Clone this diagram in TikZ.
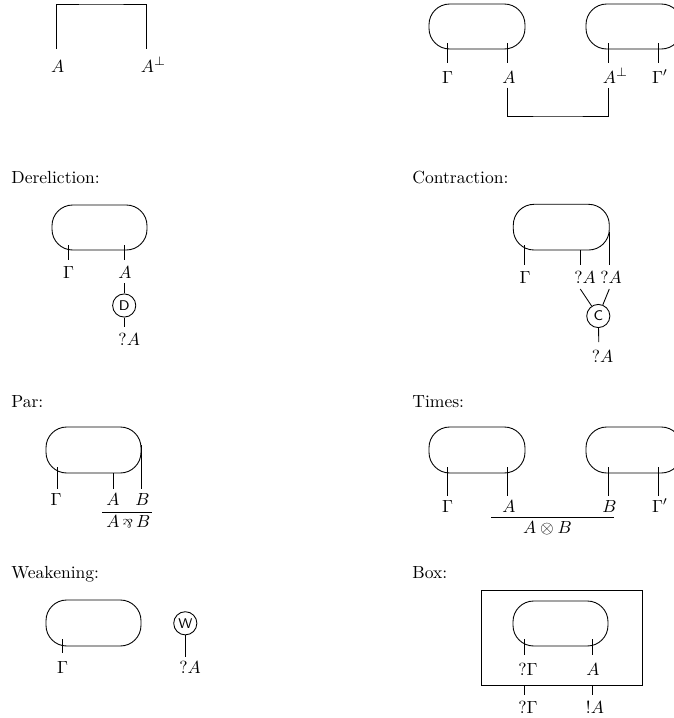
\documentclass[tikz,border=0pt]{standalone}
\newcommand{\parrsym}{\mathbin{\rotatebox[origin=c]{180}{$\scriptstyle\&$}}}
\tikzset{
  wire/.style={line width=0.5pt},
  oval/.style={line width=0.5pt, rounded corners=11.8pt},
  lab/.style={inner sep=0pt, anchor=base},
  ttl/.style={inner sep=0pt, anchor=base west},
  gate/.style={draw, circle, line width=0.5pt, minimum size=13.2pt, inner sep=0pt, font=\footnotesize\sffamily},
  boxframe/.style={line width=0.5pt}
}
\begin{document}
\begin{tikzpicture}[x=0.57pt,y=-0.57pt]
\useasboundingbox (0,0) rectangle (674,718);
\clip (0,0) rectangle (674,718);

% ---------- Axiom ----------
\coordinate (ax1) at (56.5,49);
\coordinate (ax2) at (146,49);
\draw[wire] (ax1) |- (101,4) -| (ax2);
\node[lab] (axA) at (57.8,72) {$A$};
\node[lab] (axAp) at (147.5,72) {$A\rlap{$^{\perp}$}$};

% ---------- Cut ----------
\draw[oval] (429,4) rectangle (525,49);
\draw[oval] (586,4) rectangle (682,49);
\draw[wire] (447.3,43) coordinate (cw1) -- (447.3,63) coordinate (cw1e);
\draw[wire] (507.3,43) coordinate (cw2) -- (507.3,63) coordinate (cw2e);
\draw[wire] (608.3,43) coordinate (cw3) -- (608.3,63) coordinate (cw3e);
\draw[wire] (658.3,43) coordinate (cw4) -- (658.3,63) coordinate (cw4e);
\node[lab] (cG) at (447.7,83) {$\Gamma$};
\node[lab] (cA) at (509,83) {$A$};
\node[lab] (cAp) at (609.5,83) {$A\rlap{$^{\perp}$}$};
\node[lab] (cGp) at (657.5,83) {$\Gamma\rlap{$'$}$};
\coordinate (cut1) at (507.3,87.5);
\coordinate (cut2) at (608.3,87.5);
\draw[wire] (cut1) |- (558,116) -| (cut2);

% ---------- Dereliction ----------
\node[ttl] (tDer) at (11,183) {Dereliction:};
\draw[oval] (52,205) rectangle (147,250);
\draw[wire] (68,245) coordinate (dw1) -- (68,260) coordinate (dw1e);
\draw[wire] (124,245) coordinate (dw2) -- (124,260) coordinate (dw2e);
\node[lab] (dG) at (68.7,278) {$\Gamma$};
\node[lab] (dA) at (125,278) {$A$};
\node[gate] (D) at (124.2,305.5) {D};
\coordinate (dA1) at (124.2,283);
\coordinate (dQ1) at (124.2,327);
\draw[wire] (dA1) -- (D);
\draw[wire] (D) -- (dQ1);
\node[lab] (dQ) at (129.2,345) {$?A$};

% ---------- Contraction ----------
\node[ttl] (tCon) at (412,183) {Contraction:};
\draw[oval] (513.3,204.3) rectangle (609.3,250);
\draw[wire] (524.3,245) coordinate (kw1) -- (524.3,265) coordinate (kw1e);
\draw[wire] (580.3,250) coordinate (kw2) -- (580.3,265) coordinate (kw2e);
\draw[wire] (609.3,231.7) coordinate (kw3) -- (609.3,265) coordinate (kw3e);
\node[lab] (kG) at (525,283) {$\Gamma$};
\node[lab] (kQ1) at (585,283) {$?A$};
\node[lab] (kQ2) at (611,283) {$?A$};
\node[gate] (C) at (598.3,316) {C};
\coordinate (kl1) at (580.3,289);
\coordinate (kl2) at (609.3,289);
\coordinate (kl3) at (598.8,342);
\draw[wire] (kl1) -- (C);
\draw[wire] (kl2) -- (C);
\draw[wire] (C) -- (kl3);
\node[lab] (kQ3) at (602.5,362) {$?A$};

% ---------- Par ----------
\node[ttl] (tPar) at (11,407) {Par:};
\draw[oval] (46,427) rectangle (141,473);
\draw[wire] (57.3,467) coordinate (pw1) -- (57.3,489) coordinate (pw1e);
\draw[wire] (113,473) coordinate (pw2) -- (113,489) coordinate (pw2e);
\draw[wire] (141,445) coordinate (pw3) -- (141,489) coordinate (pw3e);
\node[lab] (pG) at (56,505) {$\Gamma$};
\node[lab] (pA) at (113,505) {$A$};
\node[lab] (pB) at (142.5,505) {$B$};
\coordinate (pr1) at (102,512);
\coordinate (pr2) at (152,512);
\draw[wire] (pr1) -- (pr2);
\node[lab] (pAB) at (128.3,527.7) {$A\,{\rotatebox[origin=c]{180}{$\scriptstyle\&$}}\,B$};

% ---------- Times ----------
\node[ttl] (tTim) at (412,407) {Times:};
\draw[oval] (429,427) rectangle (525,473);
\draw[oval] (586,427) rectangle (682,473);
\draw[wire] (447.3,467) coordinate (tw1) -- (447.3,496) coordinate (tw1e);
\draw[wire] (507.3,467) coordinate (tw2) -- (507.3,496) coordinate (tw2e);
\draw[wire] (608.3,467) coordinate (tw3) -- (608.3,496) coordinate (tw3e);
\draw[wire] (658.3,467) coordinate (tw4) -- (658.3,496) coordinate (tw4e);
\node[lab] (tG) at (447.7,512) {$\Gamma$};
\node[lab] (tA) at (509,512) {$A$};
\node[lab] (tB) at (609.5,512) {$B$};
\node[lab] (tGp) at (657.5,512) {$\Gamma\rlap{$'$}$};
\coordinate (tr1) at (491,517);
\coordinate (tr2) at (614,517);
\draw[wire] (tr1) -- (tr2);
\node[lab] (tAB) at (547.5,533.3) {$A\otimes B$};

% ---------- Weakening ----------
\node[ttl] (tWea) at (11,578) {Weakening:};
\draw[oval] (46,600) rectangle (141,646);
\draw[wire] (62,639) coordinate (ww1) -- (62,653) coordinate (ww1e);
\node[lab] (wG) at (62.5,673) {$\Gamma$};
\node[gate] (W) at (185.3,623.3) {W};
\coordinate (wl) at (185.3,657);
\draw[wire] (W) -- (wl);
\node[lab] (wQ) at (190,673) {$?A$};

% ---------- Box ----------
\node[ttl] (tBox) at (412,578) {Box:};
\draw[boxframe] (481,590) rectangle (642,685);
\draw[oval] (513,601) rectangle (608,646);
\draw[wire] (524,639) coordinate (bw1) -- (524,655) coordinate (bw1e);
\draw[wire] (592,639) coordinate (bw2) -- (592,655) coordinate (bw2e);
\node[lab] (bQG) at (528,675) {$?\Gamma$};
\node[lab] (bA) at (593,675) {$A$};
\draw[wire] (524,685) coordinate (bo1) -- (524,695) coordinate (bo1e);
\draw[wire] (592,685) coordinate (bo2) -- (592,695) coordinate (bo2e);
\node[lab] (bQG2) at (528,713) {$?\Gamma$};
\node[lab] (bBA) at (595,713) {$!A$};
\end{tikzpicture}
\end{document}
